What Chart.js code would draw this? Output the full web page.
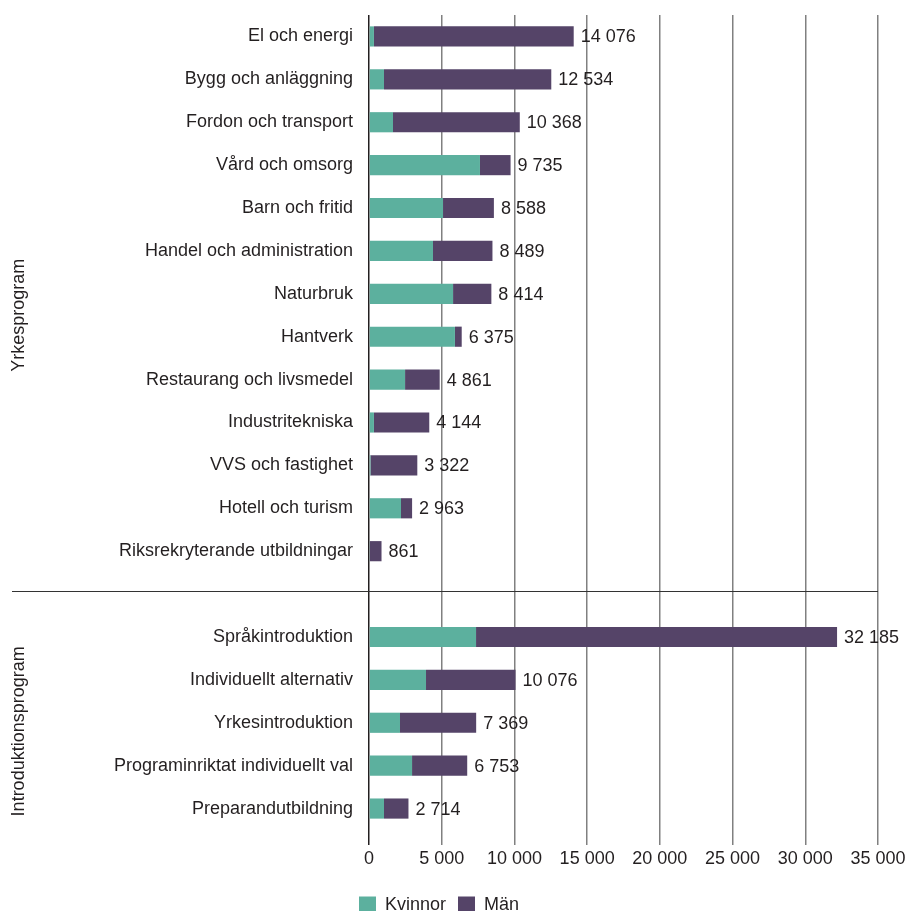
<!DOCTYPE html>
<html>
<head>
<meta charset="utf-8">
<script src="https://cdn.jsdelivr.net/npm/chart.js@4"></script>
<style>
    body { margin: 0; background: #fff; }
    #wrap { width: 907px; height: 911px; }
</style>
</head>
<body>
<div id="wrap"><canvas id="chart"></canvas></div>
<script>
// Data (empty slot between the two program groups)
const categories = [
    'El och energi', 'Bygg och anläggning', 'Fordon och transport', 'Vård och omsorg',
    'Barn och fritid', 'Handel och administration', 'Naturbruk', 'Hantverk',
    'Restaurang och livsmedel', 'Industritekniska', 'VVS och fastighet', 'Hotell och turism',
    'Riksrekryterande utbildningar',
    '',
    'Språkintroduktion', 'Individuellt alternativ', 'Yrkesintroduktion',
    'Programinriktat individuellt val', 'Preparandutbildning'
];
const kvinnor = [340, 1030, 1650, 7630, 5090, 4400, 5780, 5910, 2480, 340, 100, 2200, 60,
    null, 7360, 3920, 2130, 2960, 1030];
const man = [13736, 11504, 8718, 2105, 3498, 4089, 2634, 465, 2381, 3804, 3222, 763, 801,
    null, 24825, 6156, 5239, 3793, 1684];
const xTicks = [0, 5000, 10000, 15000, 20000, 25000, 30000, 35000];
// group titles; "at" is the category position the title is centred on
const groups = [
    { name: 'Yrkesprogram', at: 6.5 },
    { name: 'Introduktionsprogram', at: 16.2 }
];
const separatorIndex = 13;

const textColor = '#231f20';
const fontFamily = "'Liberation Sans', Arial, sans-serif";
const fontSize = 18;

function fmt(v) {
    return String(v).replace(/\B(?=(\d{3})+(?!\d))/g, ' ');
}

// totals at bar ends, group labels and separator line
const extras = {
    id: 'extras',
    afterDatasetsDraw(chart) {
        const ctx = chart.ctx;
        const x = chart.scales.x;
        const y = chart.scales.y;
        ctx.save();
        ctx.fillStyle = textColor;
        ctx.font = fontSize + 'px ' + fontFamily;
        ctx.textBaseline = 'middle';
        ctx.textAlign = 'left';
        categories.forEach(function(c, i) {
            if (kvinnor[i] == null) return;
            const total = kvinnor[i] + man[i];
            ctx.fillText(fmt(total), x.getPixelForValue(total) + 7, y.getPixelForValue(i) + 1);
        });

        // separator
        const sy = Math.round(y.getPixelForValue(separatorIndex) - 3);
        ctx.strokeStyle = '#333';
        ctx.lineWidth = 1;
        ctx.beginPath();
        ctx.moveTo(12, sy + 0.5);
        ctx.lineTo(chart.chartArea.right, sy + 0.5);
        ctx.stroke();

        // group titles
        ctx.textAlign = 'center';
        groups.forEach(function(g) {
            ctx.save();
            ctx.translate(19, y.getPixelForValue(g.at));
            ctx.rotate(-Math.PI / 2);
            ctx.fillText(g.name, 0, 0);
            ctx.restore();
        });
        ctx.restore();
    }
};

const ctx = document.getElementById('chart').getContext('2d');
new Chart(ctx, {
    type: 'bar',
    data: {
        labels: categories,
        datasets: [{
            label: 'Kvinnor',
            data: kvinnor,
            backgroundColor: '#5cb09e',
            barPercentage: 0.47,
            categoryPercentage: 1
        }, {
            label: 'Män',
            data: man,
            backgroundColor: '#554468',
            barPercentage: 0.47,
            categoryPercentage: 1
        }]
    },
    options: {
        indexAxis: 'y',
        responsive: true,
        maintainAspectRatio: false,
        animation: false,
        layout: { padding: { top: 15, right: 29, bottom: -13, left: 0 } },
        scales: {
            x: {
                stacked: true,
                min: 0,
                max: 35000,
                afterBuildTicks: function(scale) {
                    scale.ticks = xTicks.map(function(v) { return { value: v }; });
                },
                afterFit: function(scale) {
                    scale.height = 54;
                    scale.paddingRight = 0;
                },
                grid: {
                    color: function(c) { return c.tick && c.tick.value === 0 ? '#231f20' : '#808080'; },
                    lineWidth: 1.5,
                    tickLength: 15,
                    drawTicks: true
                },
                border: { display: false },
                ticks: {
                    color: textColor,
                    font: { family: fontFamily, size: fontSize },
                    padding: 3,
                    maxRotation: 0,
                    callback: function(v) { return fmt(v); }
                }
            },
            y: {
                stacked: true,
                afterFit: function(scale) {
                    scale.width = 369;
                    scale.paddingTop = 0;
                    scale.paddingBottom = 0;
                },
                grid: { display: false },
                border: { display: false },
                ticks: {
                    color: textColor,
                    font: { family: fontFamily, size: fontSize },
                    padding: 8,
                    autoSkip: false
                }
            }
        },
        plugins: {
            legend: {
                position: 'bottom',
                labels: {
                    color: textColor,
                    font: { family: fontFamily, size: fontSize },
                    boxWidth: 17,
                    boxHeight: 17,
                    padding: 12
                }
            },
            tooltip: { enabled: false }
        }
    },
    plugins: [extras]
});
</script>
</body>
</html>
